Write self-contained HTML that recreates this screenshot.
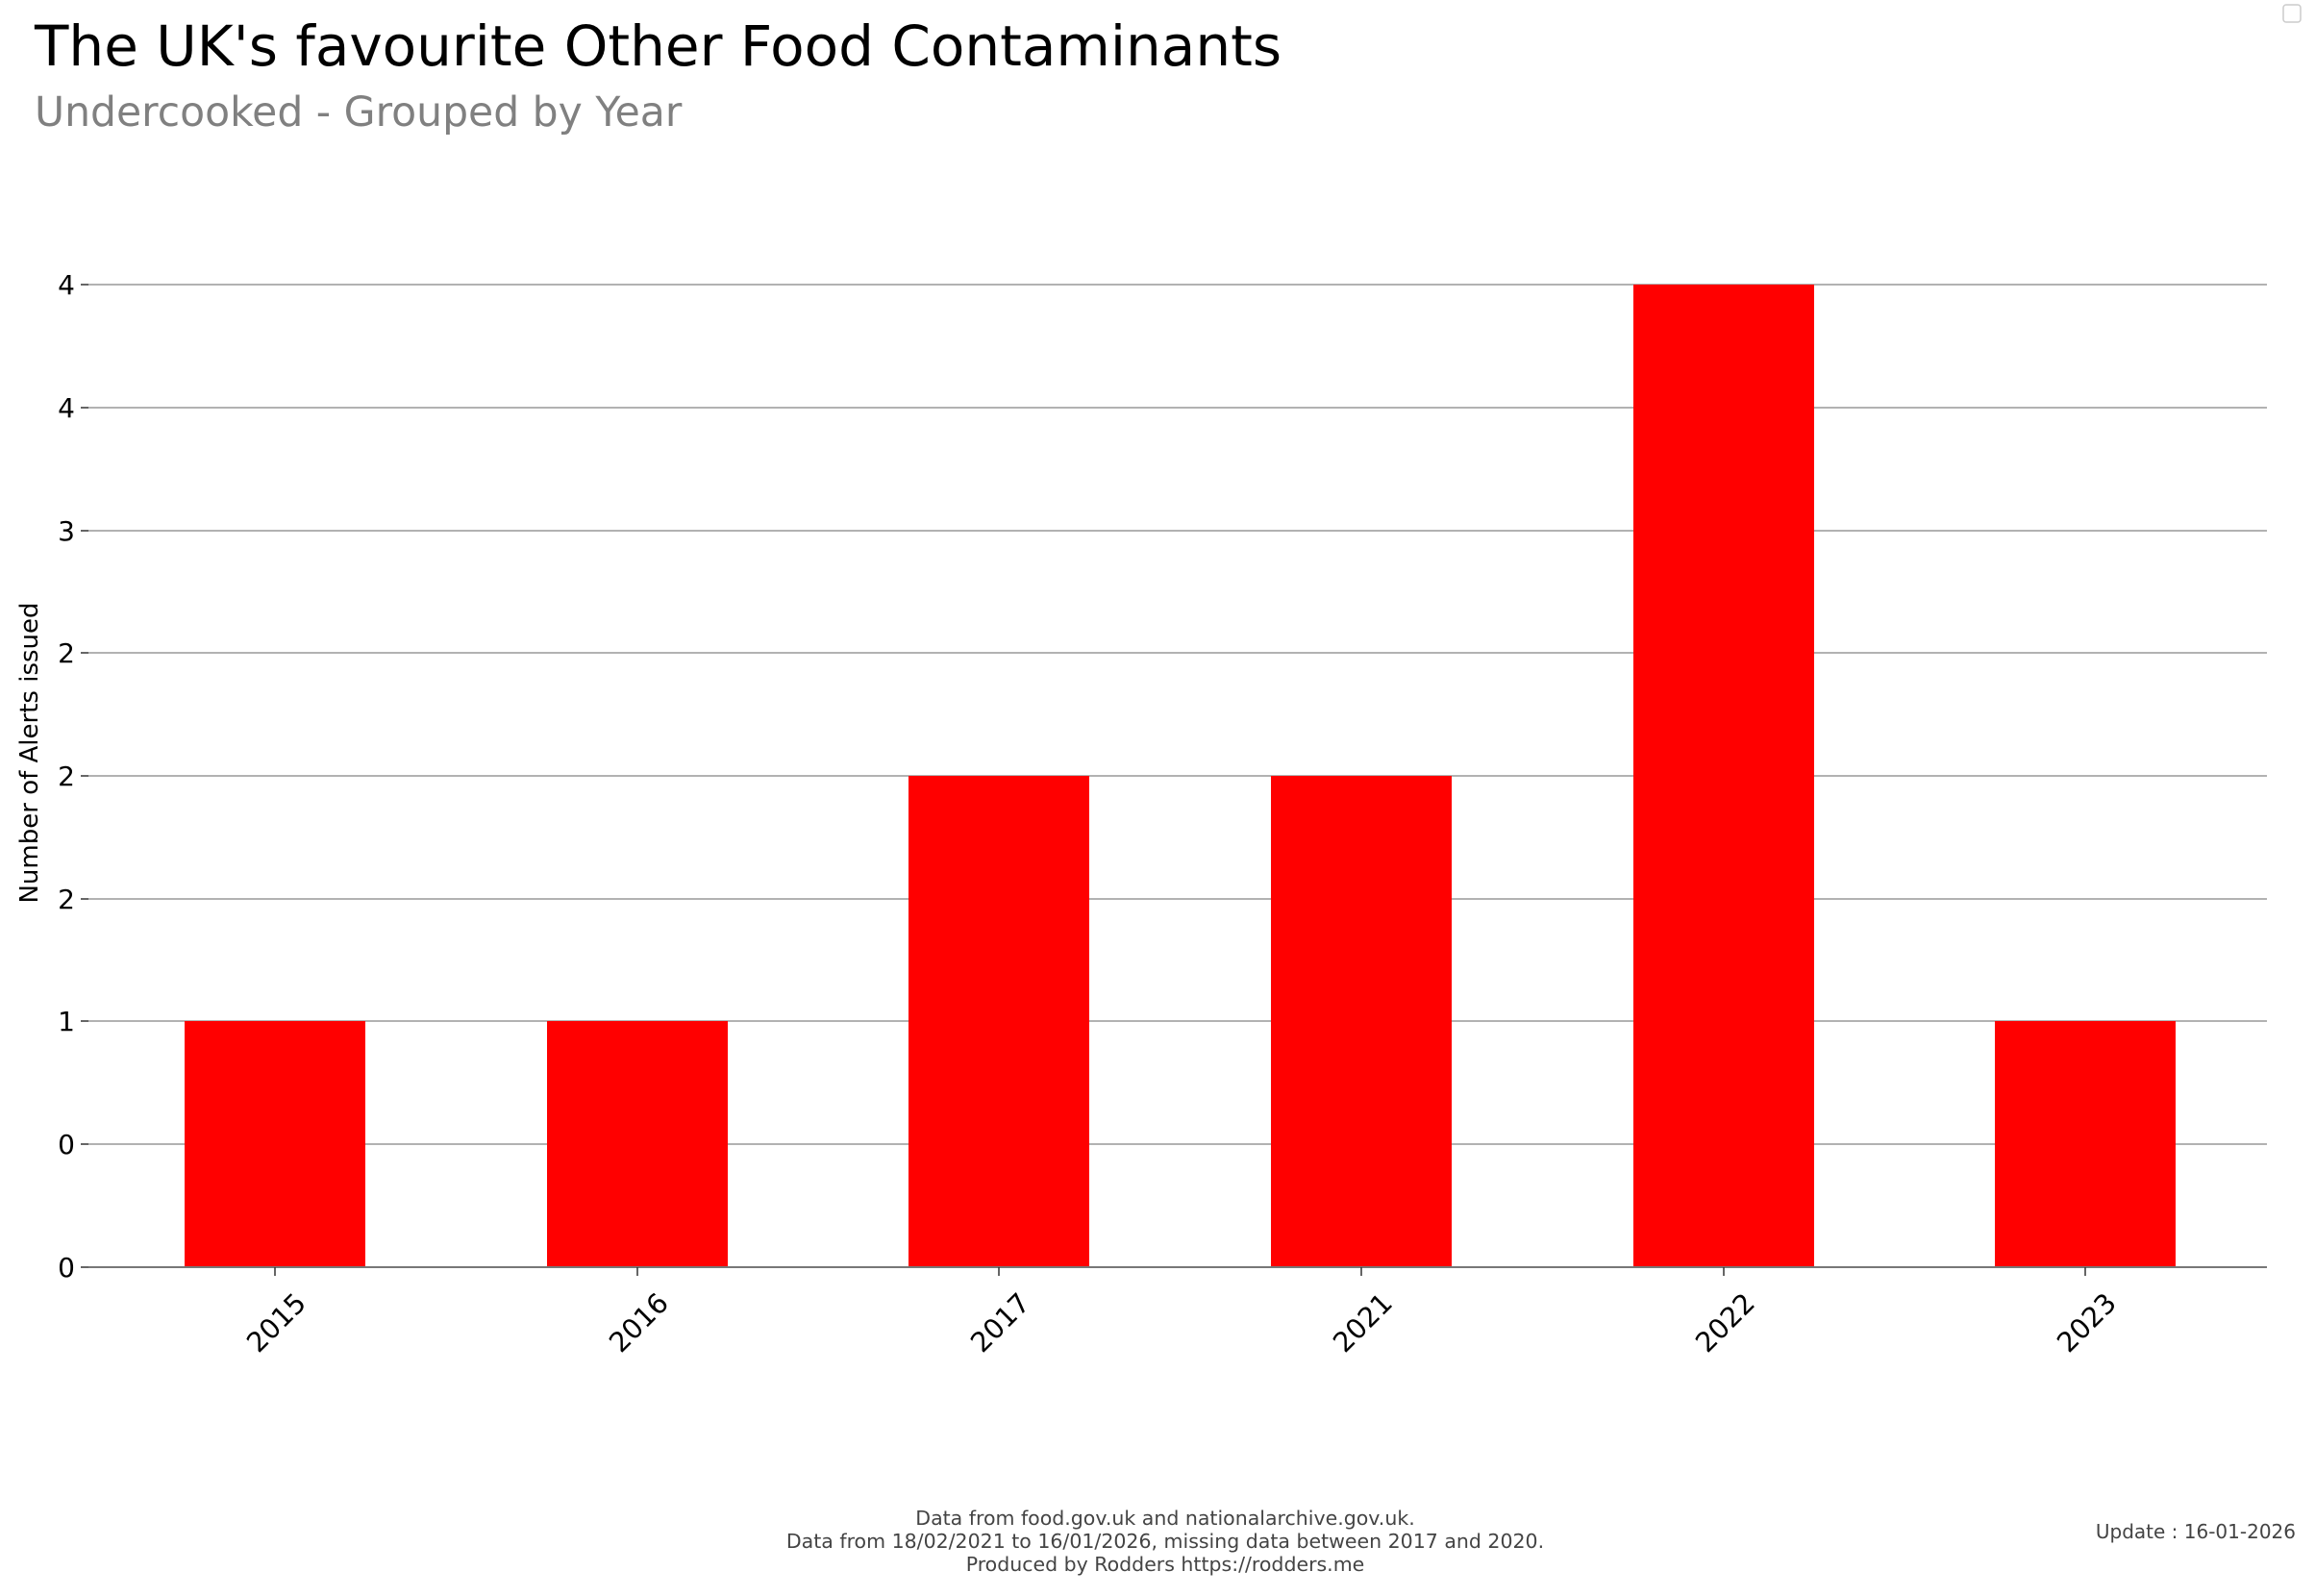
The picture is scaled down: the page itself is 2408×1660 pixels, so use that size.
<!DOCTYPE html>
<html><head><meta charset="utf-8"><style>
html,body{margin:0;padding:0;background:#fff;}
body{width:2408px;height:1660px;overflow:hidden;position:relative;font-family:"DejaVu Sans","Liberation Sans",sans-serif;}
</style></head><body>
<svg width="2408" height="1660" viewBox="0 0 2408 1660" xmlns="http://www.w3.org/2000/svg" style="position:absolute;left:0;top:0">
<text x="36" y="68" font-size="58" fill="#000" font-family="DejaVu Sans, sans-serif">The UK's favourite Other Food Contaminants</text>
<text x="36" y="131" font-size="42.5" fill="#808080" font-family="DejaVu Sans, sans-serif">Undercooked - Grouped by Year</text>
<rect x="2375" y="5" width="18" height="18" rx="3" fill="none" stroke="#ccc" stroke-width="1.5"/>
<g stroke="#999" stroke-width="1.5">
<line x1="92" x2="2358" y1="296" y2="296"/>
<line x1="92" x2="2358" y1="424" y2="424"/>
<line x1="92" x2="2358" y1="552" y2="552"/>
<line x1="92" x2="2358" y1="679" y2="679"/>
<line x1="92" x2="2358" y1="807" y2="807"/>
<line x1="92" x2="2358" y1="935" y2="935"/>
<line x1="92" x2="2358" y1="1062" y2="1062"/>
<line x1="92" x2="2358" y1="1190" y2="1190"/>
</g>
<g fill="#ff0000">
<rect x="192" y="1062" width="188" height="256"/>
<rect x="569" y="1062" width="188" height="256"/>
<rect x="945" y="807" width="188" height="511"/>
<rect x="1322" y="807" width="188" height="511"/>
<rect x="1699" y="296" width="188" height="1022"/>
<rect x="2075" y="1062" width="188" height="256"/>
</g>
<line x1="92" x2="2358" y1="1318" y2="1318" stroke="#777" stroke-width="2"/>
<g stroke="#333" stroke-width="1.5">
<line x1="84" x2="92" y1="296" y2="296"/><line x1="84" x2="92" y1="424" y2="424"/>
<line x1="84" x2="92" y1="552" y2="552"/><line x1="84" x2="92" y1="679" y2="679"/>
<line x1="84" x2="92" y1="807" y2="807"/><line x1="84" x2="92" y1="935" y2="935"/>
<line x1="84" x2="92" y1="1062" y2="1062"/><line x1="84" x2="92" y1="1190" y2="1190"/>
<line x1="84" x2="92" y1="1318" y2="1318"/>
<line x1="286" x2="286" y1="1318" y2="1327"/><line x1="663" x2="663" y1="1318" y2="1327"/>
<line x1="1039" x2="1039" y1="1318" y2="1327"/><line x1="1416" x2="1416" y1="1318" y2="1327"/>
<line x1="1793" x2="1793" y1="1318" y2="1327"/><line x1="2169" x2="2169" y1="1318" y2="1327"/>
</g>
<g font-size="28" fill="#000" text-anchor="end">
<text x="78" y="306">4</text><text x="78" y="434">4</text><text x="78" y="562">3</text>
<text x="78" y="689">2</text><text x="78" y="817">2</text><text x="78" y="945">2</text>
<text x="78" y="1072">1</text><text x="78" y="1200">0</text><text x="78" y="1328">0</text>
</g>
<g font-size="28.5" fill="#000" text-anchor="end">
<text transform="translate(320,1357) rotate(-45)">2015</text>
<text transform="translate(697,1357) rotate(-45)">2016</text>
<text transform="translate(1073,1357) rotate(-45)">2017</text>
<text transform="translate(1450,1357) rotate(-45)">2021</text>
<text transform="translate(1827,1357) rotate(-45)">2022</text>
<text transform="translate(2203,1357) rotate(-45)">2023</text>
</g>
<text transform="translate(39,783) rotate(-90)" font-size="26" text-anchor="middle" fill="#000">Number of Alerts issued</text>
<g font-size="20.5" fill="#444" text-anchor="middle">
<text x="1212" y="1586">Data from food.gov.uk and nationalarchive.gov.uk.</text>
<text x="1212" y="1610">Data from 18/02/2021 to 16/01/2026, missing data between 2017 and 2020.</text>
<text x="1212" y="1634">Produced by Rodders https://rodders.me</text>
</g>
<text x="2388" y="1600" font-size="20" fill="#444" text-anchor="end">Update : 16-01-2026</text>
</svg>
</body></html>
